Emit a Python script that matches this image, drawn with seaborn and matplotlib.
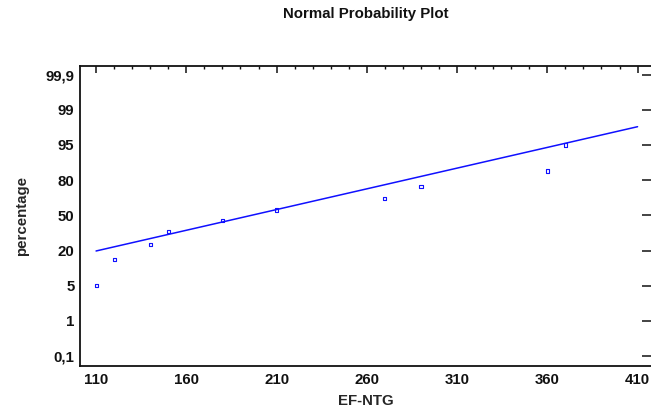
import numpy as np
import pandas as pd
import matplotlib
matplotlib.use("Agg")
import matplotlib.pyplot as plt
import seaborn as sns
from statistics import NormalDist
from matplotlib.ticker import MultipleLocator, FixedLocator

# Observed EF-NTG values (sorted)
ef_ntg = [110, 120, 140, 150, 180, 210, 270, 290, 360, 370]

# Fitted normal reference line (location / scale)
line_mu = 196.0
line_sigma = 103.3

# Axis labelling
x_ticks = [110, 160, 210, 260, 310, 360, 410]
pct_labels = ["0,1", "1", "5", "20", "50", "80", "95", "99", "99,9"]

nd = NormalDist()
n = len(ef_ntg)
plot_pos = [(i - 0.5) / n for i in range(1, n + 1)]
z_pts = [nd.inv_cdf(p) for p in plot_pos]

points = pd.DataFrame({"x": ef_ntg, "z": z_pts})
line_x = [x_ticks[0], x_ticks[-1]]
line = pd.DataFrame({"x": line_x, "z": [(v - line_mu) / line_sigma for v in line_x]})

# Percentage ticks evenly spaced in normal-score units (5% and 95% at +-z_0.95)
step = nd.inv_cdf(0.95) / 2
y_tick_pos = [step * k for k in range(-4, 5)]

sns.set_theme(style="white")
plt.rcParams["font.family"] = ["Liberation Sans", "DejaVu Sans"]
plt.rcParams["font.weight"] = "bold"

W, H = 651, 417
fig = plt.figure(figsize=(W / 100, H / 100), dpi=100)
ax = fig.add_axes([80 / W, 1 - 366 / H, 572 / W, 300 / H])

blue = "#1010ff"
sns.lineplot(data=line, x="x", y="z", ax=ax, color=blue, linewidth=1.1)
sns.scatterplot(data=points, x="x", y="z", ax=ax, marker="s", s=5,
                facecolor="none", edgecolor=blue, linewidth=0.8)

ax.set_xlim(101.1, 418.0)
ax.set_ylim(-3.52, 3.49)

ax.xaxis.set_major_locator(FixedLocator(x_ticks))
ax.xaxis.set_minor_locator(MultipleLocator(10))
ax.set_xticklabels([str(t) for t in x_ticks])
ax.yaxis.set_major_locator(FixedLocator(y_tick_pos))
ax.set_yticklabels(pct_labels)

fs = 10.8
ax.tick_params(axis="both", which="both", direction="in", top=True, right=True,
               colors="#111111", labelcolor="#111111")
ax.tick_params(axis="x", which="major", length=5, width=1.1, labelsize=fs, pad=5)
ax.tick_params(axis="x", which="minor", length=2.2, width=1.0)
ax.tick_params(axis="y", which="major", length=7.2, width=1.1, labelsize=fs, pad=4)
for lab in ax.get_xticklabels() + ax.get_yticklabels():
    lab.set_fontweight("bold")

for sp in ax.spines.values():
    sp.set_color("#111111")
    sp.set_linewidth(1.3)

ax.set_xlabel("EF-NTG", fontsize=fs, fontweight="bold", labelpad=5)
ax.set_ylabel("percentage", fontsize=fs, fontweight="bold", labelpad=12)
ax.grid(False)

fig.text(366 / W, 1 - 14 / H, "Normal Probability Plot", ha="center", va="center",
         fontsize=fs, fontweight="bold", color="#111111")

fig.savefig("out.png", dpi=100, facecolor="white")
